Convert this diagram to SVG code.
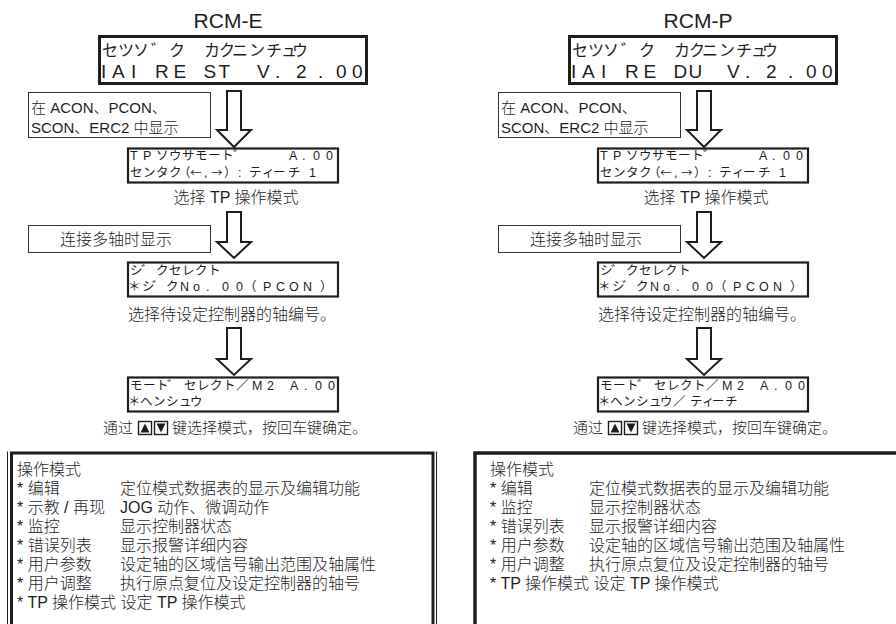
<svg xmlns="http://www.w3.org/2000/svg" width="896" height="624" viewBox="0 0 896 624">
<style>
.t{font-family:"Liberation Sans","Noto Sans CJK SC",sans-serif;fill:#1e1e1e;font-weight:300}
.jp{font-family:"Liberation Sans","Noto Sans CJK JP",sans-serif;fill:#1e1e1e}
.cj{font-family:"Noto Sans CJK JP",sans-serif;font-size:11.5px}
.title{font-size:21px}
.cap{font-size:16px}
.cap3{font-size:15px}
.call{font-size:15px}
.lcd{fill:#fff;stroke:#1e1e1e;stroke-width:3}
.slcd{fill:#fff;stroke:#1e1e1e;stroke-width:2.2}
.cbox{fill:#fff;stroke:#333;stroke-width:1}
.arrow{fill:#fff;stroke:#1e1e1e;stroke-width:2}
.l1{font-size:16px}
.l2{font-size:19px}
.s{font-size:12.5px}
.bx{font-size:16px}
.frame{fill:none;stroke:#1e1e1e}
.key{fill:#fff;stroke:#1e1e1e;stroke-width:1.4}
.tri{fill:#1e1e1e}
</style>

<!-- LEFT COLUMN: RCM-E -->
<g id="title-e"><text class="t title" x="228" y="28" text-anchor="middle">RCM-E</text></g>

<g id="lcd-e-version">
<rect class="lcd" x="99.5" y="36.5" width="267" height="47"/>
<text class="jp l1" y="56" x="102 118 133 151 169 204 219 232 249 266 281 292">セツソ゛クカクニンチュウ</text>
<text class="jp l2" y="78" x="101 112 131 155 173.5 203.5 218.5 257 275 296 318 336 352">IAIRESTV.2.00</text>
</g>

<g id="note-e-1">
<rect class="cbox" x="28.5" y="92.5" width="182" height="45"/>
<text class="t call" x="31" y="113">在 ACON、PCON、</text>
<text class="t call" x="31" y="133">SCON、ERC2 中显示</text>
</g>

<g id="lcd-e-tpmode">
<rect class="slcd" x="128" y="148.5" width="210" height="34"/>
<text class="jp s" y="160" x="130 143 156 169 182 195 208 221 233 289 302 313 326">TPソウサモート゛A.00</text>
<text class="jp s" y="177"><tspan x="130 143 156 169 178">センタク（</tspan><tspan class="cj" x="190">←</tspan><tspan x="204">,</tspan><tspan class="cj" x="211">→</tspan><tspan x="224 238 249 262 273 288 309">）:ティーチ1</tspan></text>
</g>
<g id="cap-e-1"><text class="t cap" x="236" y="203" text-anchor="middle">选择 TP 操作模式</text></g>

<g id="note-e-2">
<rect class="cbox" x="28.5" y="225.5" width="182" height="27"/>
<text class="t cap" x="116" y="245" text-anchor="middle">连接多轴时显示</text>
</g>

<g id="lcd-e-axis">
<rect class="slcd" x="128" y="262.5" width="210" height="34"/>
<text class="jp s" y="275" x="130 141 156 169 182 195 208">シ゛クセレクト</text>
<text class="jp s" y="291" x="128 142 152 166 180 193 206 222 236 244 263 276 289 303 320">＊シ゛クNo.00（PCON）</text>
</g>
<g id="cap-e-2"><text class="t cap" x="128" y="320">选择待设定控制器的轴编号。</text></g>

<g id="lcd-e-modeselect">
<rect class="slcd" x="128" y="377.5" width="210" height="34"/>
<text class="jp s" y="390" x="130 143 156 167 184 197 210 223 236 252 267 290 304 315 328">モート゛セレクト／M2A.00</text>
<text class="jp s" y="406" x="128 140 153 166 179 190">＊ヘンシュウ</text>
</g>
<g id="cap-e-3">
<text class="t cap3" x="103" y="433">通过</text>
<rect class="key" x="138.5" y="421.5" width="13" height="13"/>
<polygon class="tri" points="140.5,432.5 149.5,432.5 145,423.5"/>
<rect class="key" x="154.5" y="421.5" width="13" height="13"/>
<polygon class="tri" points="156.5,423.5 165.5,423.5 161,432.5"/>
<text class="t cap3" x="172" y="433">键选择模式，按回车键确定。</text>
</g>

<g id="modes-e">
<path class="frame" stroke-width="1" d="M7.5 624 V451.5 M436.5 451.5 V624"/>
<path class="frame" stroke-width="3" d="M11.5 624 V453 H433 V624"/>
<text class="t bx" x="17" y="475">操作模式</text>
<text class="t bx" x="17" y="494">* 编辑</text><text class="t bx" x="120" y="494">定位模式数据表的显示及编辑功能</text>
<text class="t bx" x="17" y="513">* 示教 / 再现</text><text class="t bx" x="120" y="513">JOG 动作、微调动作</text>
<text class="t bx" x="17" y="532">* 监控</text><text class="t bx" x="120" y="532">显示控制器状态</text>
<text class="t bx" x="17" y="551">* 错误列表</text><text class="t bx" x="120" y="551">显示报警详细内容</text>
<text class="t bx" x="17" y="570">* 用户参数</text><text class="t bx" x="120" y="570">设定轴的区域信号输出范围及轴属性</text>
<text class="t bx" x="17" y="589">* 用户调整</text><text class="t bx" x="120" y="589">执行原点复位及设定控制器的轴号</text>
<text class="t bx" x="17" y="608">* TP 操作模式 设定 TP 操作模式</text>
</g>

<!-- RIGHT COLUMN: RCM-P -->
<g id="title-p"><text class="t title" x="698" y="28" text-anchor="middle">RCM-P</text></g>

<g id="lcd-p-version">
<rect class="lcd" x="569.5" y="36.5" width="267" height="47"/>
<text class="jp l1" y="56" x="572 588 603 621 639 674 689 702 719 736 751 762">セツソ゛クカクニンチュウ</text>
<text class="jp l2" y="78" x="571 582 601 625 643.5 673.5 688.5 727 745 766 788 806 822">IAIREDUV.2.00</text>
</g>

<g id="note-p-1">
<rect class="cbox" x="498.5" y="92.5" width="182" height="45"/>
<text class="t call" x="501" y="113">在 ACON、PCON、</text>
<text class="t call" x="501" y="133">SCON、ERC2 中显示</text>
</g>

<g id="lcd-p-tpmode">
<rect class="slcd" x="598" y="148.5" width="210" height="34"/>
<text class="jp s" y="160" x="600 613 626 639 652 665 678 691 703 759 772 783 796">TPソウサモート゛A.00</text>
<text class="jp s" y="177"><tspan x="600 613 626 639 648">センタク（</tspan><tspan class="cj" x="660">←</tspan><tspan x="674">,</tspan><tspan class="cj" x="681">→</tspan><tspan x="694 708 719 732 743 758 779">）:ティーチ1</tspan></text>
</g>
<g id="cap-p-1"><text class="t cap" x="706" y="203" text-anchor="middle">选择 TP 操作模式</text></g>

<g id="note-p-2">
<rect class="cbox" x="498.5" y="225.5" width="182" height="27"/>
<text class="t cap" x="586" y="245" text-anchor="middle">连接多轴时显示</text>
</g>

<g id="lcd-p-axis">
<rect class="slcd" x="598" y="262.5" width="210" height="34"/>
<text class="jp s" y="275" x="600 611 626 639 652 665 678">シ゛クセレクト</text>
<text class="jp s" y="291" x="598 612 622 636 650 663 676 692 706 714 733 746 759 773 790">＊シ゛クNo.00（PCON）</text>
</g>
<g id="cap-p-2"><text class="t cap" x="598" y="320">选择待设定控制器的轴编号。</text></g>

<g id="lcd-p-modeselect">
<rect class="slcd" x="598" y="377.5" width="210" height="34"/>
<text class="jp s" y="390" x="600 613 626 637 654 667 680 693 706 722 737 760 774 785 798">モート゛セレクト／M2A.00</text>
<text class="jp s" y="406" x="598 610 623 636 649 660 673 690 702 712 725">＊ヘンシュウ／ティーチ</text>
</g>
<g id="cap-p-3">
<text class="t cap3" x="573" y="433">通过</text>
<rect class="key" x="608.5" y="421.5" width="13" height="13"/>
<polygon class="tri" points="610.5,432.5 619.5,432.5 615,423.5"/>
<rect class="key" x="624.5" y="421.5" width="13" height="13"/>
<polygon class="tri" points="626.5,423.5 635.5,423.5 631,432.5"/>
<text class="t cap3" x="642" y="433">键选择模式，按回车键确定。</text>
</g>

<g id="modes-p">
<path class="frame" stroke-width="3.5" d="M475 624 V453 H896"/>
<text class="t bx" x="490" y="475">操作模式</text>
<text class="t bx" x="490" y="494">* 编辑</text><text class="t bx" x="589" y="494">定位模式数据表的显示及编辑功能</text>
<text class="t bx" x="490" y="513">* 监控</text><text class="t bx" x="589" y="513">显示控制器状态</text>
<text class="t bx" x="490" y="532">* 错误列表</text><text class="t bx" x="589" y="532">显示报警详细内容</text>
<text class="t bx" x="490" y="551">* 用户参数</text><text class="t bx" x="589" y="551">设定轴的区域信号输出范围及轴属性</text>
<text class="t bx" x="490" y="570">* 用户调整</text><text class="t bx" x="589" y="570">执行原点复位及设定控制器的轴号</text>
<text class="t bx" x="490" y="589">* TP 操作模式 设定 TP 操作模式</text>
</g>

<g id="connectors">
<path class="arrow" d="M227 91 H241 V130 H251 L234 147 L217 130 H227 Z"/>
<path class="arrow" d="M227 212 H241 V242 H251 L234 258 L217 242 H227 Z"/>
<path class="arrow" d="M227 328 H241 V359 H251 L234 375 L217 359 H227 Z"/>
<path class="arrow" d="M697 91 H711 V130 H721 L704 147 L687 130 H697 Z"/>
<path class="arrow" d="M697 212 H711 V242 H721 L704 258 L687 242 H697 Z"/>
<path class="arrow" d="M697 328 H711 V359 H721 L704 375 L687 359 H697 Z"/>
</g>
</svg>
